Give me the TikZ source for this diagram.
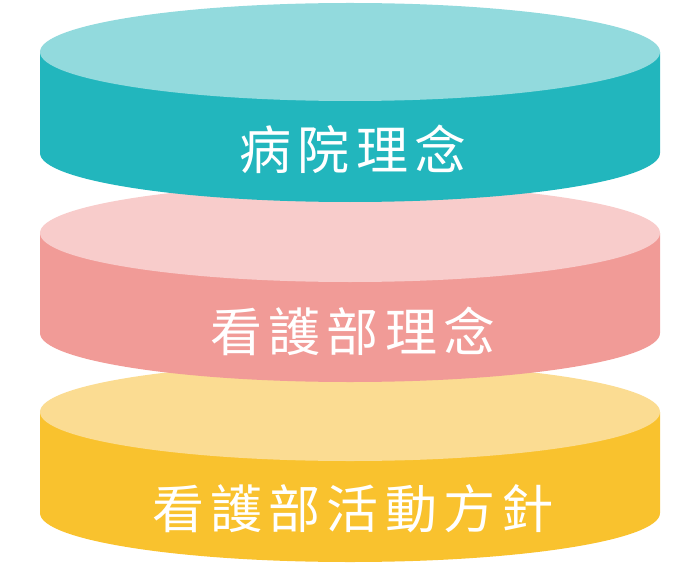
\documentclass[tikz,border=0pt]{standalone}
\usepackage{fontspec}
\newfontfamily\cjk[LetterSpace=12]{Noto Sans CJK TC}
\definecolor{tealtop}{HTML}{92DADD}
\definecolor{tealside}{HTML}{22B6BD}
\definecolor{pinktop}{HTML}{F8CCCB}
\definecolor{pinkside}{HTML}{F19B97}
\definecolor{yeltop}{HTML}{FBDC92}
\definecolor{yelside}{HTML}{F9C22E}
\tikzset{
  lbl/.style={text=white, font=\cjk\fontsize{52}{52}\selectfont, inner sep=0pt, anchor=center},
}
\newcommand{\mydisc}[4]{% top y, bottom y, top colour, side colour
  \fill[#4] (40,#1) -- (40,#2) arc[start angle=180,end angle=360,x radius=310,y radius=49] -- (660,#1) -- cycle;
  \fill[#3] (350,#1) ellipse[x radius=310,y radius=49];
}
\begin{document}
\begin{tikzpicture}[x=1pt,y=1pt]
\useasboundingbox (0,0) rectangle (700,563);
\mydisc{151}{50}{yeltop}{yelside}
\mydisc{330}{230}{pinktop}{pinkside}
\mydisc{511}{410}{tealtop}{tealside}
\node[lbl] (l1) at (353,414) {病院理念};
\node[lbl] (l2) at (353,232) {看護部理念};
\node[lbl] (l3) at (353,54) {看護部活動方針};
\end{tikzpicture}
\end{document}
